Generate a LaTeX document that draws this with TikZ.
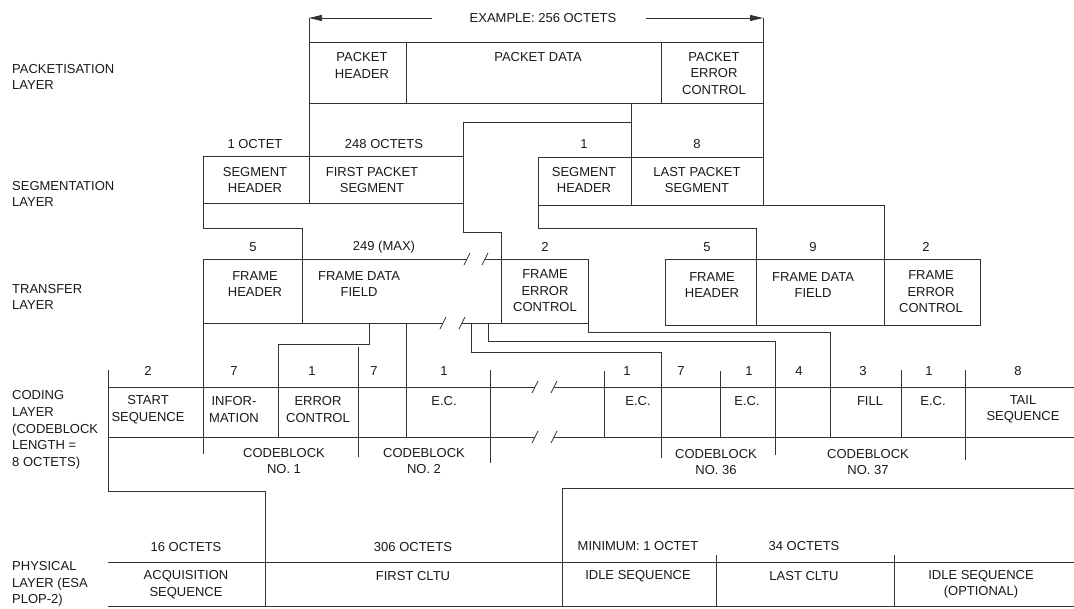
\documentclass[tikz,border=0pt]{standalone}
\usepackage{fontspec}
\setmainfont{Liberation Sans}
\usetikzlibrary{arrows.meta}
\begin{document}
\begin{tikzpicture}[x=1pt,y=-1pt,
  ln/.style={draw=black!80,line width=0.75pt},
  arr/.style={ln,-{Triangle[length=13pt,width=6pt]}},
  txt/.style={font=\fontsize{13}{16.5}\selectfont,align=center,inner sep=0pt,text=black!90},
  lay/.style={font=\fontsize{13}{16.8}\selectfont,align=left,anchor=west,inner sep=0pt,text=black!90}]
\useasboundingbox (0,0) rectangle (1074,609);
\newcommand\brkmark[2]{\draw[ln] (#1-3,#2+6) -- (#1+3,#2-6);}

% ---------- layer labels
\node[lay] (L1) at (12,77) {PACKETISATION\\LAYER};
\node[lay] (L2) at (12,194) {SEGMENTATION\\LAYER};
\node[lay] (L3) at (12,297) {TRANSFER\\LAYER};
\node[lay] (L4) at (12,430) {CODING\\LAYER\\(CODEBLOCK\\LENGTH =\\8 OCTETS)};
\node[lay] (L5) at (12,584) {PHYSICAL\\LAYER (ESA\\PLOP-2)};

% ---------- packetisation
\node[txt] (ex) at (543,18) {EXAMPLE: 256 OCTETS};
\coordinate (aL) at (309,18);
\coordinate (aR) at (763,18);
\draw[arr] (432,18) -- (aL);
\draw[arr] (646,18) -- (aR);
\draw[ln] (309,42) -- (763,42);
\draw[ln] (309,103) -- (763,103);
\draw[ln] (406,42) -- (406,103);
\draw[ln] (661,42) -- (661,103);
\draw[ln] (aL) -- (309,203);
\draw[ln] (aR) -- (763,205);
\node[txt] (phd) at (362,65.5) {PACKET\\HEADER};
\node[txt] (pdata) at (538,57) {PACKET DATA};
\node[txt] (pec) at (714,73.5) {PACKET\\ERROR\\CONTROL};

% ---------- segmentation
\draw[ln] (631,103) -- (631,205);
\draw[ln] (463,122) -- (631,122);
\draw[ln] (463,122) -- (463,232) -- (501,232) -- (501,323);
\draw[ln] (203,156) -- (463,156);
\draw[ln] (203,203) -- (463,203);
\draw[ln] (203,156) -- (203,228) -- (302,228) -- (302,323);
\draw[ln] (538,157) -- (763,157);
\draw[ln] (538,205) -- (884,205) -- (884,325);
\draw[ln] (538,157) -- (538,228) -- (756,228) -- (756,325);
\node[txt] (s1o) at (255,144) {1 OCTET};
\node[txt] (s248) at (384,144) {248 OCTETS};
\node[txt] (s2one) at (584,144) {1};
\node[txt] (s2eight) at (697,144) {8};
\node[txt] (sh1) at (255,180) {SEGMENT\\HEADER};
\node[txt] (fps) at (372,180) {FIRST PACKET\\SEGMENT};
\node[txt] (sh2) at (584,180) {SEGMENT\\HEADER};
\node[txt] (lps) at (697,180) {LAST PACKET\\SEGMENT};

% ---------- transfer
\draw[ln] (203,259) -- (467,259);
\draw[ln] (485,259) -- (588,259);
\brkmark{467}{259}\brkmark{485}{259}
\draw[ln] (203,323) -- (443,323);
\draw[ln] (462,323) -- (588,323);
\brkmark{443}{323}\brkmark{462}{323}
\draw[ln] (203,259) -- (203,454);
\draw[ln] (588,259) -- (588,332) -- (830,332) -- (830,437);
\draw[ln] (369,323) -- (369,344) -- (278,344) -- (278,437);
\draw[ln] (406,323) -- (406,437);
\draw[ln] (471,323) -- (471,352) -- (661,352) -- (661,458);
\draw[ln] (488,323) -- (488,341) -- (775,341) -- (775,455);
\draw[ln] (665,259) rectangle (980,325);
\node[txt] (f5a) at (253,247) {5};
\node[txt] (f249) at (384,247) {249 (MAX)};
\node[txt] (f2a) at (545,247) {2};
\node[txt] (f5b) at (707,247) {5};
\node[txt] (f9) at (813,247) {9};
\node[txt] (f2b) at (926,247) {2};
\node[txt] (fh1) at (255,284) {FRAME\\HEADER};
\node[txt] (fdf1) at (359,284) {FRAME DATA\\FIELD};
\node[txt] (fec1) at (545,291) {FRAME\\ERROR\\CONTROL};
\node[txt] (fh2) at (712,285) {FRAME\\HEADER};
\node[txt] (fdf2) at (813,285) {FRAME DATA\\FIELD};
\node[txt] (fec2) at (931,292) {FRAME\\ERROR\\CONTROL};

% ---------- coding
\draw[ln] (108,387) -- (535,387);
\draw[ln] (554,387) -- (1074,387);
\draw[ln] (108,437) -- (535,437);
\draw[ln] (554,437) -- (1074,437);
\brkmark{535}{387}\brkmark{554}{387}
\brkmark{535}{437}\brkmark{554}{437}
\draw[ln] (108,370) -- (108,491) -- (265,491) -- (265,606);
\draw[ln] (358,347) -- (358,457);
\draw[ln] (490,370) -- (490,463);
\draw[ln] (604,371) -- (604,437);
\draw[ln] (720,371) -- (720,437);
\draw[ln] (901,370) -- (901,437);
\draw[ln] (965,370) -- (965,460);
\node[txt] (c2) at (148,371) {2};
\node[txt] (c7a) at (234,371) {7};
\node[txt] (c1a) at (312,371) {1};
\node[txt] (c7b) at (374,371) {7};
\node[txt] (c1b) at (444,371) {1};
\node[txt] (c1c) at (627,371) {1};
\node[txt] (c7c) at (681,371) {7};
\node[txt] (c1d) at (749,371) {1};
\node[txt] (c4) at (799,371) {4};
\node[txt] (c3) at (863,371) {3};
\node[txt] (c1e) at (929,371) {1};
\node[txt] (c8) at (1018,371) {8};
\node[txt] (start) at (148,409.5) {START\\SEQUENCE};
\node[txt] (info) at (234,409.5) {INFOR-\\MATION};
\node[txt] (errc) at (318,409.5) {ERROR\\CONTROL};
\node[txt] (ec1) at (444,401) {E.C.};
\node[txt] (ec2) at (638,401) {E.C.};
\node[txt] (ec3) at (747,401) {E.C.};
\node[txt] (fill) at (870,401) {FILL};
\node[txt] (ec4) at (933,401) {E.C.};
\node[txt] (tail) at (1023,409.5) {TAIL\\SEQUENCE};
\node[txt] (cb1) at (284,461) {CODEBLOCK\\NO. 1};
\node[txt] (cb2) at (424,461) {CODEBLOCK\\NO. 2};
\node[txt] (cb36) at (716,462) {CODEBLOCK\\NO. 36};
\node[txt] (cb37) at (868,462) {CODEBLOCK\\NO. 37};

% ---------- physical
\draw[ln] (562,606) -- (562,488) -- (1074,488);
\draw[ln] (108,562) -- (1074,562);
\draw[ln] (108,606) -- (1074,606);
\draw[ln] (716,555) -- (716,606);
\draw[ln] (894,555) -- (894,606);
\node[txt] (p16) at (186,547) {16 OCTETS};
\node[txt] (p306) at (413,547) {306 OCTETS};
\node[txt] (pmin) at (638,546) {MINIMUM: 1 OCTET};
\node[txt] (p34) at (804,546) {34 OCTETS};
\node[txt] (acq) at (186,584.5) {ACQUISITION\\SEQUENCE};
\node[txt] (fcltu) at (413,576) {FIRST CLTU};
\node[txt] (idle1) at (638,576) {IDLE SEQUENCE};
\node[txt] (lcltu) at (804,576) {LAST CLTU};
\node[txt] (idle2) at (981,584.5) {IDLE SEQUENCE\\(OPTIONAL)};
\end{tikzpicture}
\end{document}
